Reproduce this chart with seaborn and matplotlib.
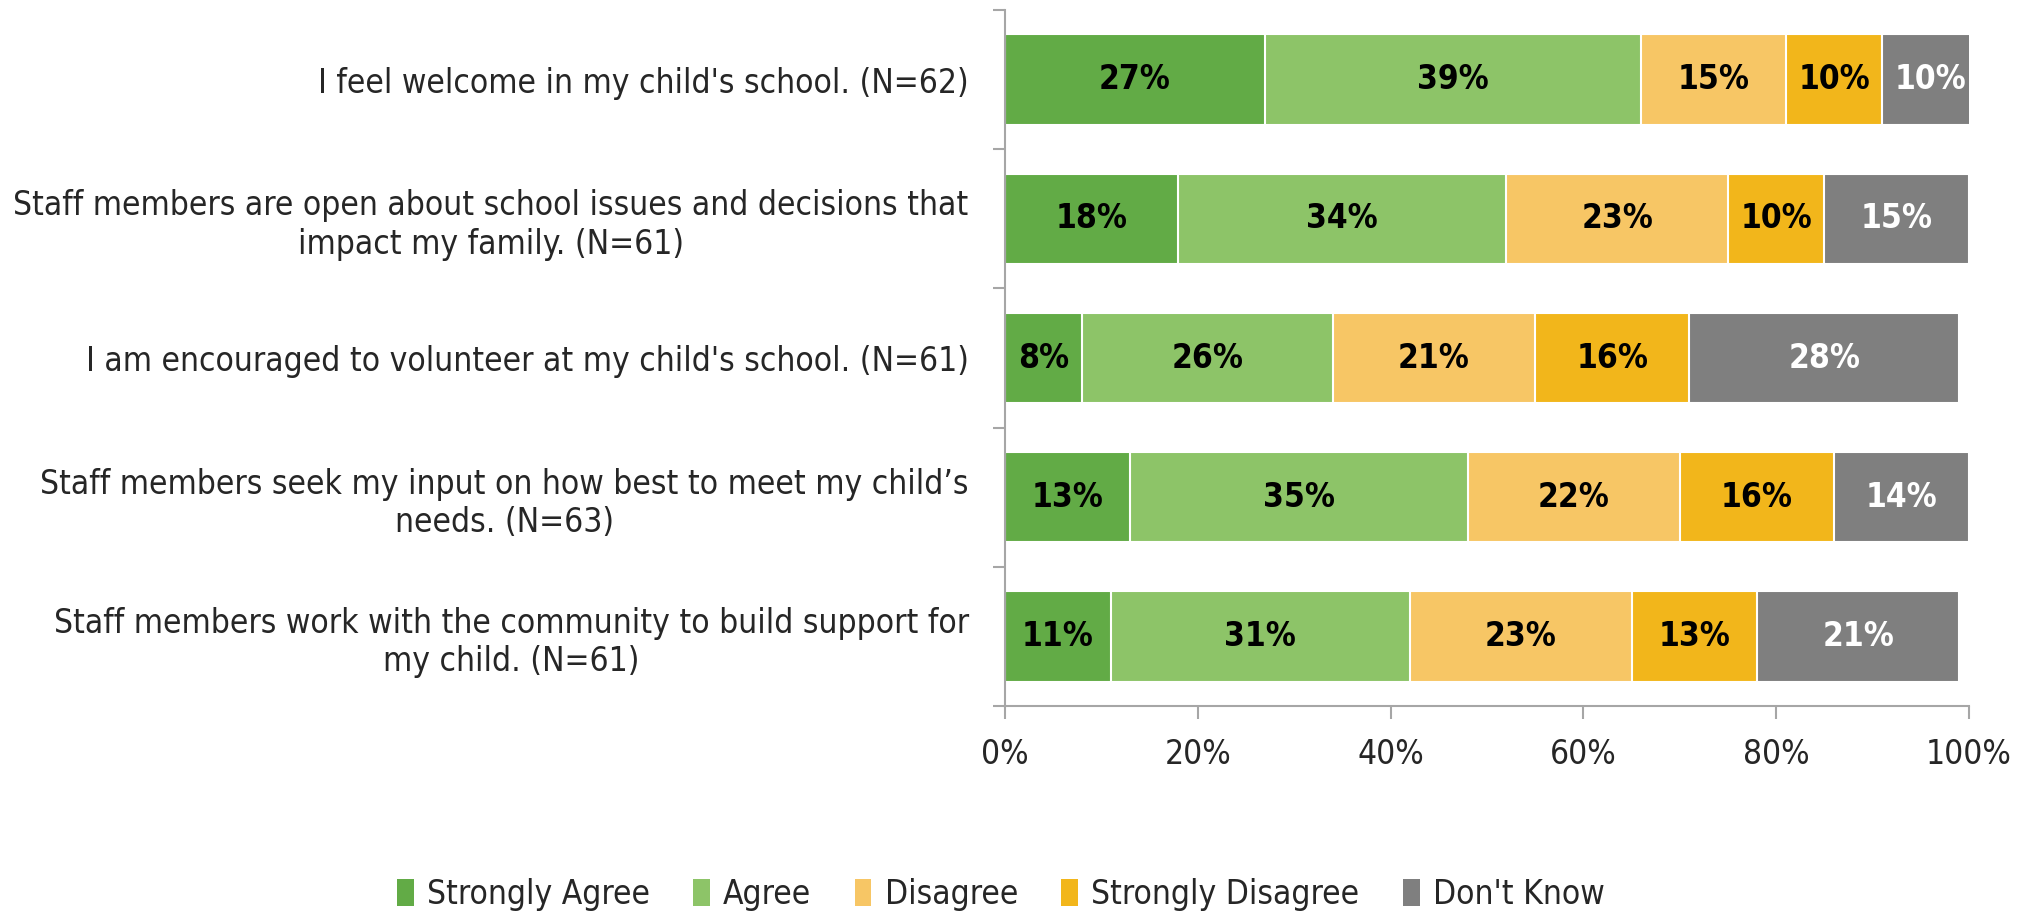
import matplotlib
matplotlib.use("Agg")
import matplotlib.pyplot as plt
import matplotlib.patches as mpatches
import seaborn as sns
import pandas as pd
import numpy as np

questions = [
    "I feel welcome in my child's school. (N=62)",
    "Staff members are open about school issues and decisions that\nimpact my family. (N=61)",
    "I am encouraged to volunteer at my child's school. (N=61)",
    "Staff members seek my input on how best to meet my child\u2019s\nneeds. (N=63)",
    "Staff members work with the community to build support for\nmy child. (N=61)",
]
categories = ["Strongly Agree", "Agree", "Disagree", "Strongly Disagree", "Don't Know"]
strongly_agree = [27, 18, 8, 13, 11]
agree = [39, 34, 26, 35, 31]
disagree = [15, 23, 21, 22, 23]
strongly_disagree = [10, 10, 16, 16, 13]
dont_know = [10, 15, 28, 14, 21]
colors = ["#62AB46", "#8DC468", "#F7C665", "#F2B61B", "#7F7F7F"]
label_colors = ["black", "black", "black", "black", "white"]
xticks = [0, 20, 40, 60, 80, 100]
xticklabels = ["0%", "20%", "40%", "60%", "80%", "100%"]

series = [strongly_agree, agree, disagree, strongly_disagree, dont_know]

sns.set_style("white")
plt.rcParams["font.family"] = ["DejaVu Sans"]
plt.rcParams["font.stretch"] = "condensed"

fig = plt.figure(figsize=(20.3, 9.11), dpi=100)
ax = fig.add_axes([0.495, 0.225, 0.475, 0.764])

vals = np.array(series, dtype=float)
cum = np.cumsum(vals, axis=0)

df_rows = []
for ci, cat in enumerate(categories):
    for qi, q in enumerate(questions):
        df_rows.append({"question": q, "category": cat, "value": vals[ci, qi], "cum": cum[ci, qi]})
df = pd.DataFrame(df_rows)

for ci in range(len(categories) - 1, -1, -1):
    sub = df[df["category"] == categories[ci]]
    sns.barplot(data=sub, x="cum", y="question", order=questions, orient="h",
                color=colors[ci], edgecolor="white", linewidth=1.5, width=0.65,
                ax=ax, errorbar=None, saturation=1)

for ci in range(len(categories)):
    for qi in range(len(questions)):
        v = vals[ci, qi]
        xc = cum[ci, qi] - v / 2
        ax.text(xc, qi, f"{int(v)}%", ha="center", va="center",
                fontsize=24, fontweight="bold", color=label_colors[ci])

ax.set_xlim(0, 100)
ax.set_ylim(len(questions) - 0.5, -0.5)
ax.set_xticks(xticks)
ax.set_xticklabels(xticklabels, fontsize=24)
ax.set_yticks(range(len(questions)))
ax.set_yticklabels(questions, fontsize=24, multialignment="center")
ax.set_yticks(np.arange(-0.5, len(questions), 1.0), minor=True)
ax.tick_params(axis="y", which="major", length=0, pad=26)
ax.tick_params(axis="y", which="minor", length=9, width=1.5, color="#A6A6A6", direction="out", left=True)
ax.tick_params(axis="x", which="major", length=9, width=1.5, color="#A6A6A6", direction="out", bottom=True, pad=14)
ax.set_xlabel("")
ax.set_ylabel("")
for s in ["top", "right"]:
    ax.spines[s].set_visible(False)
for s in ["left", "bottom"]:
    ax.spines[s].set_color("#A6A6A6")
    ax.spines[s].set_linewidth(1.5)
ax.grid(False)

handles = [mpatches.Patch(facecolor=c, edgecolor="none", label=l) for c, l in zip(colors, categories)]
fig.legend(handles=handles, loc="lower center", bbox_to_anchor=(0.493, -0.033), ncol=5,
           frameon=False, fontsize=24, handlelength=0.5, handleheight=0.9,
           handletextpad=0.4, columnspacing=1.3)

fig.savefig("out.png", dpi=100)
